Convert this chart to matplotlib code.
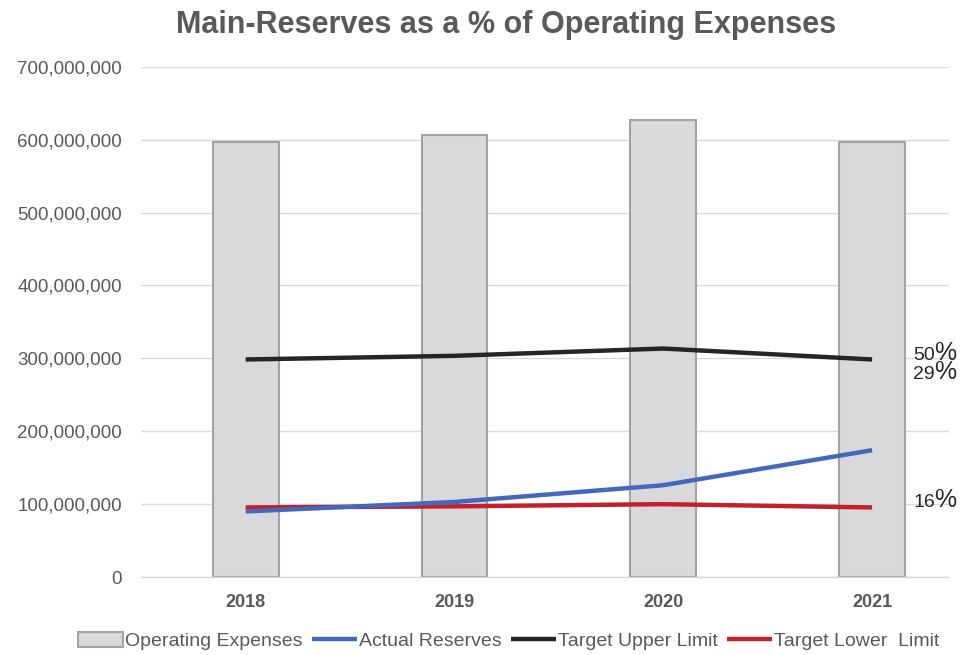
import matplotlib
matplotlib.use("Agg")
import matplotlib.pyplot as plt
from matplotlib.ticker import FuncFormatter

plt.rcParams['font.family'] = ['Liberation Sans', 'DejaVu Sans']

years = ["2018", "2019", "2020", "2021"]
operating_expenses = [597e6, 607e6, 627e6, 597e6]
actual_reserves = [90e6, 103e6, 126e6, 174e6]
target_upper = [298.5e6, 303.5e6, 313.5e6, 298.5e6]
target_lower = [95.5e6, 97e6, 100e6, 95.5e6]
end_label_texts = ["50", "29", "16"]
end_label_y = [297.8e6, 271.8e6, 96e6]

fig = plt.figure(figsize=(9.61, 6.55), dpi=100)
ax = fig.add_axes([0.147, 0.119, 0.840, 0.779])

x = list(range(len(years)))
gray_text = "#595959"
bars = ax.bar(x, operating_expenses, width=0.315, color="#D9D9DB", edgecolor="#A3A3A3",
              linewidth=1.5, label="Operating Expenses", zorder=2)
l1, = ax.plot(x, actual_reserves, color="#4468BC", lw=3.2, label="Actual Reserves", zorder=4,
              solid_capstyle="butt")
l2, = ax.plot(x, target_upper, color="#262626", lw=3.2, label="Target Upper Limit", zorder=3,
              solid_capstyle="butt")
l3, = ax.plot(x, target_lower, color="#C3202B", lw=3.2, label="Target Lower  Limit", zorder=3,
              solid_capstyle="butt")

for txt, yv in zip(end_label_texts, end_label_y):
    ax.annotate(txt, xy=(3, yv), xytext=(29.5, 0), textcoords="offset points",
                fontsize=14, color="#262626", va="baseline", ha="left",
                annotation_clip=False)
    ax.annotate("%", xy=(3, yv), xytext=(45, 0), textcoords="offset points",
                fontsize=18, color="#262626", va="baseline", ha="left",
                annotation_clip=False)

ax.set_ylim(0, 700e6)
ax.set_xlim(-0.5, 3.366)
ax.set_yticks([i * 100e6 for i in range(8)])
ax.yaxis.set_major_formatter(FuncFormatter(lambda v, p: f"{int(v):,}"))
ax.set_xticks(x)
ax.set_xticklabels(years, fontweight="bold")
ax.tick_params(axis="y", labelsize=13.5, colors=gray_text, length=0, pad=14)
ax.tick_params(axis="x", labelsize=13, colors=gray_text, length=0, pad=12)
ax.grid(axis="y", color="#D9D9D9", lw=1, zorder=0)
ax.set_axisbelow(True)
for s in ["top", "right", "left"]:
    ax.spines[s].set_visible(False)
ax.spines["bottom"].set_color("#D9D9D9")
ax.spines["bottom"].set_linewidth(1)

fig.suptitle("Main-Reserves as a % of Operating Expenses", x=0.527, y=0.985,
             fontsize=22, fontweight="bold", color=gray_text)

leg = ax.legend([bars, l1, l2, l3],
                ["Operating Expenses", "Actual Reserves", "Target Upper Limit", "Target Lower  Limit"],
                loc="lower center", bbox_to_anchor=(0.455, -0.178), ncol=4, frameon=False,
                fontsize=14, handlelength=2.3, handleheight=0.8, handletextpad=0.1,
                columnspacing=0.5, labelcolor=gray_text)

fig.savefig("out.png", dpi=100)
